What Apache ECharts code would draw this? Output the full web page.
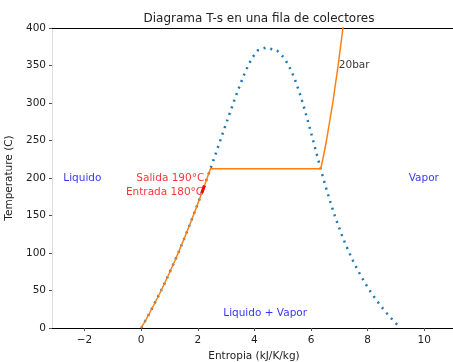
<!DOCTYPE html>
<html><head><meta charset="utf-8">
<script src="https://cdn.jsdelivr.net/npm/echarts@6/dist/echarts.min.js"></script>
<style>html,body{margin:0;padding:0;background:#fff}#c{width:453px;height:362px}</style>
</head><body><div id="c"></div>
<script>
// Saturation dome (water): temperature (C), liquid entropy, vapour entropy
const satT  = [0.01,10,20,30,40,50,60,70,80,90,100,110,120,130,140,150,160,170,180,190,200,210,220,230,240,250,260,270,280,290,300,310,320,330,340,350,360,370,373.95];
const satSf = [0,0.1511,0.2965,0.4368,0.5724,0.7038,0.8313,0.9551,1.0756,1.1929,1.3072,1.4188,1.5279,1.6346,1.7392,1.8418,1.9426,2.0417,2.1392,2.2355,2.3305,2.4245,2.5177,2.6101,2.7020,2.7935,2.8849,2.9765,3.0685,3.1612,3.2552,3.3510,3.4494,3.5518,3.6601,3.7784,3.9167,4.1112,4.4070];
const satSg = [9.1556,8.8999,8.6661,8.4520,8.2556,8.0748,7.9082,7.7540,7.6111,7.4781,7.3541,7.2381,7.1291,7.0264,6.9293,6.8371,6.7491,6.6650,6.5840,6.5059,6.4302,6.3563,6.2840,6.2128,6.1423,6.0721,6.0016,5.9304,5.8579,5.7834,5.7059,5.6244,5.5372,5.4422,5.3356,5.2110,5.0536,4.8012,4.4070];
// 20 bar isobar
const isoS = [0,0.1511,0.2965,0.4368,0.5724,0.7038,0.8313,0.9551,1.0756,1.1929,1.3072,1.4188,1.5279,1.6346,1.7392,1.8418,1.9426,2.0417,2.1392,2.2355,2.3305,2.4474,6.3409,6.4154,6.5453,6.7664,6.9563,7.1271,7.2867,7.4317];
const isoT = [0.01,10,20,30,40,50,60,70,80,90,100,110,120,130,140,150,160,170,180,190,200,212.42,212.42,225,250,300,350,400,450,500];
// Collector segment (inlet 180 C -> outlet 190 C)
const segS = [2.1392,2.2355];
const segT = [180,190];
// Annotations
const annText  = ['Liquido','Vapor','Liquido + Vapor','20bar','Salida 190°C','Entrada 180°C'];
const annS     = [-2.75,9.45,2.9,6.98,2.23,2.19];
const annT     = [200,200,20,350,200,181];
const annColor = ['blue','blue','blue','#000','red','red'];
const annAlign = ['left','left','left','left','right','right'];
// Ticks
const xTicks = [-2,0,2,4,6,8,10];

const dome = [];
for (let i = 0; i < satT.length; i++) dome.push([satSf[i], satT[i]]);
for (let i = satT.length - 2; i >= 0; i--) dome.push([satSg[i], satT[i]]);
const iso = isoS.map((s, i) => [s, isoT[i]]);
const seg = segS.map((s, i) => [s, segT[i]]);
const ann = annText.map((t, i) => ({
  value: [annS[i], annT[i]],
  label: {show: true, formatter: t, color: annColor[i], align: annAlign[i], verticalAlign: 'middle', position: 'inside', fontSize: 10.5, fontFamily: 'DejaVu Sans'}
}));

const font = 'DejaVu Sans';
const chart = echarts.init(document.getElementById('c'), null, {renderer: 'canvas'});
chart.setOption({
  animation: false,
  title: {text: 'Diagrama T-s en una fila de colectores', left: 254, textAlign: 'center', top: 8,
    textStyle: {fontFamily: font, fontSize: 12, fontWeight: 'normal', color: '#222'}},
  grid: {left: 52, top: 28, width: 404, height: 300, outerBoundsMode: 'none', containLabel: false},
  xAxis: [{
    type: 'value', min: -3.15, max: 11.12, position: 'bottom',
    name: 'Entropia (kJ/K/kg)', nameLocation: 'middle', nameGap: 22,
    nameTextStyle: {fontFamily: font, fontSize: 10.5, color: '#222'},
    axisLine: {show: true, onZero: false, lineStyle: {color: '#000', width: 1.2}},
    axisTick: {show: true, length: 3, lineStyle: {color: '#555'}, customValues: xTicks},
    axisLabel: {fontFamily: font, fontSize: 10.5, color: '#222', margin: 7, customValues: xTicks,
      formatter: v => String(v).replace('-', '\u2212')},
    splitLine: {show: false}
  }, {
    type: 'value', min: -3.15, max: 11.12, position: 'top',
    axisLine: {show: true, onZero: false, lineStyle: {color: '#000', width: 1.2}},
    axisTick: {show: false}, axisLabel: {show: false}, splitLine: {show: false}
  }],
  yAxis: {
    type: 'value', min: 0, max: 400, interval: 50,
    name: 'Temperature (C)', nameLocation: 'middle', nameGap: 25,
    nameTextStyle: {fontFamily: font, fontSize: 10.5, color: '#222'},
    axisLine: {show: true, onZero: false, lineStyle: {color: '#ddd', width: 1}},
    axisTick: {show: true, length: 3, lineStyle: {color: '#555'}},
    axisLabel: {fontFamily: font, fontSize: 10.5, color: '#222', margin: 6},
    splitLine: {show: false}
  },
  series: [
    {type: 'line', data: dome, showSymbol: false, smooth: false,
      lineStyle: {color: '#1f77b4', width: 2.5, type: [2, 5], cap: 'butt'}},
    {type: 'line', data: iso, showSymbol: false, clip: true,
      lineStyle: {color: '#ff7f0e', width: 1.5}},
    {type: 'line', data: seg, showSymbol: false,
      lineStyle: {color: 'red', width: 3}},
    {type: 'scatter', data: ann, symbolSize: 0, silent: true}
  ]
});
</script></body></html>
